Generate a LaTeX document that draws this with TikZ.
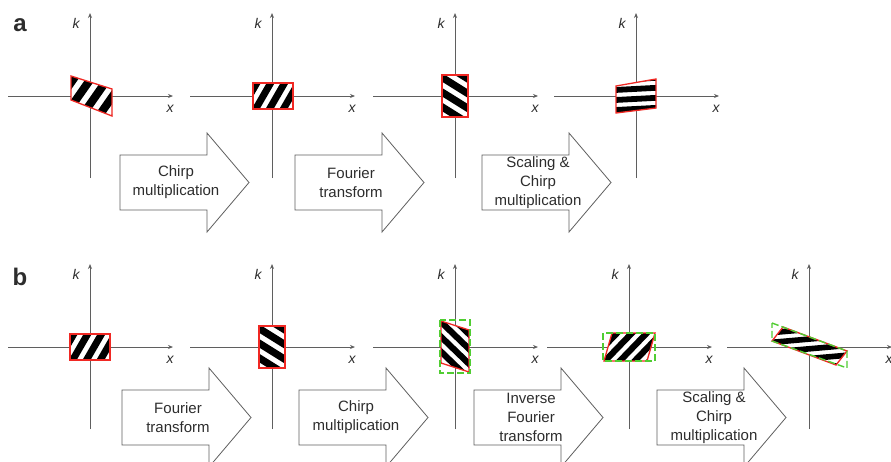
\documentclass[tikz,border=0pt]{standalone}
\usepackage{fontspec}
\setmainfont{Liberation Sans}
\usetikzlibrary{arrows.meta}
\definecolor{axisgray}{RGB}{95,95,95}
\definecolor{redline}{RGB}{240,40,35}
\definecolor{greenline}{RGB}{80,205,50}
\definecolor{txtgray}{RGB}{45,45,45}
\newcommand\stripefill[4]{%
  \begin{scope}[shift={(#1,#2)},rotate=#3]
    \foreach \i in {-9,...,9}{\fill[black] (-100,{\i*#4}) rectangle (100,{\i*#4+0.58*#4});}
  \end{scope}}
\newcommand\stripedshape[5]{%
  \path[fill=white] #1;
  \begin{scope}\clip #1; \stripefill{#2}{#3}{#4}{#5}\end{scope}}
\tikzset{
  axisline/.style={draw=axisgray,line width=0.9pt,-{Stealth[length=5pt,width=4pt]}},
  axlabel/.style={font=\fontsize{14}{14}\selectfont\itshape,text=txtgray,inner sep=0pt},
  arrowline/.style={draw=axisgray,line width=0.8pt,fill=white},
  arrowtext/.style={font=\fontsize{15}{19}\selectfont,text=txtgray,align=center,inner sep=0pt},
  rededge/.style={draw=redline,line width=1.3pt,line join=miter},
  greenedge/.style={draw=greenline,line width=1.4pt,dash pattern=on 7pt off 3pt},
  panel/.style={font=\fontsize{24}{24}\selectfont\bfseries,text=txtgray,inner sep=0pt},
  axes/.pic={
    \draw[axisline] (-82,0) -- (83,0);
    \draw[axisline] (0,82) -- (0,-83);
    \node[axlabel] (-k) at (-14,-73) {k};
    \node[axlabel] (-x) at (80,13) {x};
  },
  blockarrow/.pic={
    \path[arrowline] (0,-27.5) -- (87,-27.5) -- (87,-49.5) -- (129,0) -- (87,49.5) -- (87,27.5) -- (0,27.5) -- cycle;
  }
}
\begin{document}
\begin{tikzpicture}[x=1pt,y=-1pt]
\useasboundingbox (0,0) rectangle (891,461);
\clip (0,0) rectangle (891,461);
\fill[white] (0,0) rectangle (891,461);

% panel labels
\node[panel] (pa) at (20,25) {a};
\node[panel] (pb) at (20,277) {b};

% ---------- row a axes ----------
\pic (A1) at (90,96) {axes};
\pic (A2) at (272,96) {axes};
\pic (A3) at (455,96) {axes};
\pic (A4) at (636,96) {axes};

% ---------- row b axes ----------
\pic (B1) at (90,347) {axes};
\pic (B2) at (272,347) {axes};
\pic (B3) at (455,347) {axes};
\pic (B4) at (629,347) {axes};
\pic (B5) at (809,347) {axes};

% ---------- row a shapes ----------
\stripedshape{(71,76) -- (112,89) -- (112,116) -- (71,100) -- cycle}{91.5}{95}{55}{14}
\draw[rededge] (71,76) -- (112,89) -- (112,116) -- (71,100) -- cycle;

\stripedshape{(253,83) -- (293,83) -- (293,109) -- (253,109) -- cycle}{273}{96}{60}{12}
\draw[rededge] (253,83) rectangle (293,109);

\stripedshape{(442,75) -- (468,75) -- (468,117) -- (442,117) -- cycle}{455}{96}{-32}{12.5}
\draw[rededge] (442,75) rectangle (468,117);

\stripedshape{(616,86) -- (656,79) -- (656,108) -- (616,113) -- cycle}{636}{96}{3}{10}
\draw[rededge] (616,86) -- (656,79) -- (656,108) -- (616,113) -- cycle;

% ---------- row b shapes ----------
\stripedshape{(70,334) -- (110,334) -- (110,360) -- (70,360) -- cycle}{90}{347}{60}{12}
\draw[rededge] (70,334) rectangle (110,360);

\stripedshape{(259,326) -- (285,326) -- (285,368) -- (259,368) -- cycle}{272}{347}{-32}{12.5}
\draw[rededge] (259,326) rectangle (285,368);

\stripedshape{(441,321) -- (469,330) -- (469,372) -- (441,363) -- cycle}{455}{346}{-44}{10.7}
\draw[rededge] (441,321) -- (469,330) -- (469,372) -- (441,363) -- cycle;
\draw[greenedge] (440,320) rectangle (470,373);

\stripedshape{(612,333) -- (655,333) -- (647,361) -- (604,361) -- cycle}{629}{347}{46}{10.7}
\draw[rededge] (612,333) -- (655,333) -- (647,361) -- (604,361) -- cycle;
\draw[greenedge] (603,333) rectangle (655,361);

\stripedshape{(772,341) -- (783,327) -- (847,351) -- (836,365) -- cycle}{809}{346}{5}{9.7}
\draw[rededge] (772,341) -- (783,327) -- (847,351) -- (836,365) -- cycle;
\draw[greenedge] (772,323) -- (847,351) -- (847,368) -- (772,341) -- cycle;

% ---------- row a block arrows ----------
\pic (RA1) at (120,182.5) {blockarrow};
\node[arrowtext] (TA1) at (176,182.5) {Chirp\\multiplication};
\pic (RA2) at (295,182.5) {blockarrow};
\node[arrowtext] (TA2) at (351,182.5) {Fourier\\transform};
\pic (RA3) at (482,182.5) {blockarrow};
\node[arrowtext] (TA3) at (538,182.5) {Scaling \&\\Chirp\\multiplication};

% ---------- row b block arrows ----------
\pic (RB1) at (122,417.5) {blockarrow};
\node[arrowtext] (TB1) at (178,417.5) {Fourier\\transform};
\pic (RB2) at (299,417.5) {blockarrow};
\node[arrowtext] (TB2) at (356,417.5) {Chirp\\multiplication};
\pic (RB3) at (474,417.5) {blockarrow};
\node[arrowtext] (TB3) at (531,417.5) {Inverse\\Fourier\\transform};
\pic (RB4) at (657,417.5) {blockarrow};
\node[arrowtext] (TB4) at (714,417.5) {Scaling \&\\Chirp\\multiplication};
\end{tikzpicture}
\end{document}
